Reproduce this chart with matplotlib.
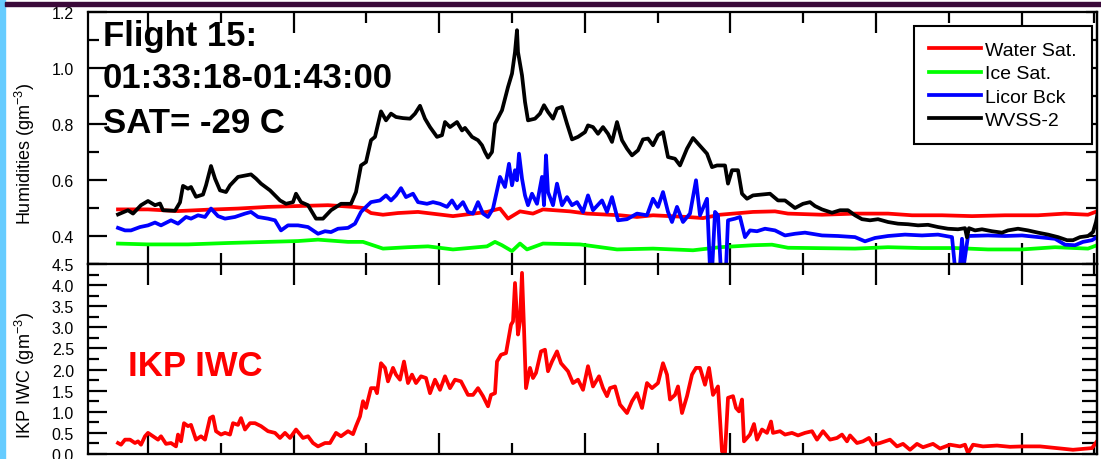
import matplotlib.pyplot as plt
from matplotlib.patches import Rectangle
import numpy as np

plt.rcParams['font.family'] = ['Liberation Sans', 'DejaVu Sans']
plt.rcParams['mathtext.fontset'] = 'custom'
plt.rcParams['mathtext.rm'] = 'Liberation Sans'
plt.rcParams['mathtext.it'] = 'Liberation Sans:italic'
plt.rcParams['mathtext.bf'] = 'Liberation Sans:bold'

# x = sample index along the leg (the original has no x labels)
water_t = [30, 60, 90, 120, 150, 180, 210, 240, 265, 275, 283, 295, 310, 330,
           365, 399, 412, 420, 432, 445, 455, 482, 499, 532, 549, 565, 599, 615, 632, 665,
           687, 700, 734, 767, 800, 824, 854, 884, 917, 950, 977, 1000, 1009]
water = [0.495, 0.495, 0.489, 0.494, 0.498, 0.504, 0.507, 0.51, 0.504, 0.5, 0.482, 0.476, 0.482, 0.486,
         0.471, 0.486, 0.498, 0.462, 0.488, 0.48, 0.495, 0.488, 0.48, 0.474, 0.468, 0.474, 0.468, 0.464, 0.476, 0.486,
         0.488, 0.48, 0.476, 0.48, 0.48, 0.474, 0.474, 0.471, 0.474, 0.474, 0.48, 0.476, 0.488]

ice_t = [30, 60, 100, 140, 180, 210, 230, 260, 275, 285, 295, 320, 340,
         365, 399, 407, 414, 424, 432, 439, 455, 492, 529, 565, 605, 632, 665,
         684, 700, 767, 800, 834, 867, 900, 934, 967, 1000, 1009]
ice = [0.373, 0.37, 0.37, 0.375, 0.379, 0.382, 0.387, 0.379, 0.379, 0.367, 0.355, 0.36, 0.363,
       0.352, 0.363, 0.379, 0.367, 0.346, 0.373, 0.352, 0.373, 0.37, 0.352, 0.355, 0.349, 0.36, 0.367,
       0.369, 0.358, 0.355, 0.36, 0.357, 0.357, 0.352, 0.352, 0.36, 0.355, 0.367]

licor_t = [30, 37, 43, 52, 60, 67, 73, 83, 90, 98, 103, 110, 117, 123, 130, 137, 147, 157, 163, 170,
           180, 187, 193, 200, 210, 220, 230, 237, 243, 250, 260, 267, 273, 278, 283, 292, 298, 303,
           308, 313, 318, 325, 330, 339, 345, 352, 359, 364, 369, 375, 380, 385, 390, 395, 400, 405,
           412, 417, 421, 424, 427, 429, 431, 434, 437, 440, 444, 449, 454, 456, 458, 460, 465, 469,
           474, 479, 484, 489, 495, 500, 505, 514, 519, 524, 530, 539, 549, 559, 565, 570, 575, 580,
           584, 589, 595, 602, 608, 612, 619, 623, 627, 630, 634, 637, 640, 647, 652, 657, 662, 669,
           677, 687, 697, 707, 717, 734, 750, 767, 777, 787, 800, 817, 834, 850, 864, 868, 871, 874,
           876, 880, 900, 917, 934, 950, 967, 977, 987, 995, 1004, 1009]
licor = [0.429, 0.42, 0.42, 0.432, 0.438, 0.448, 0.438, 0.456, 0.444, 0.468, 0.462, 0.474, 0.468, 0.498,
         0.471, 0.462, 0.468, 0.48, 0.486, 0.468, 0.462, 0.456, 0.42, 0.438, 0.438, 0.432, 0.408, 0.417,
         0.414, 0.426, 0.429, 0.444, 0.486, 0.504, 0.521, 0.527, 0.545, 0.527, 0.545, 0.571, 0.539, 0.551,
         0.521, 0.515, 0.521, 0.515, 0.504, 0.527, 0.498, 0.521, 0.486, 0.48, 0.521, 0.48, 0.468, 0.498,
         0.611, 0.575, 0.658, 0.581, 0.635, 0.599, 0.694, 0.605, 0.545, 0.51, 0.551, 0.515, 0.611, 0.51,
         0.688, 0.557, 0.51, 0.587, 0.51, 0.539, 0.51, 0.521, 0.486, 0.545, 0.492, 0.527, 0.486, 0.539,
         0.456, 0.46, 0.48, 0.474, 0.533, 0.504, 0.557, 0.486, 0.45, 0.504, 0.45, 0.48, 0.599, 0.474,
         0.533, 0.2, 0.486, 0.474, 0.2, 0.2, 0.456, 0.462, 0.468, 0.396, 0.42, 0.417, 0.426, 0.42, 0.402,
         0.408, 0.412, 0.402, 0.4, 0.396, 0.381, 0.393, 0.4, 0.405, 0.402, 0.405, 0.396, 0.25, 0.25, 0.39,
         0.3, 0.4, 0.402, 0.4, 0.402, 0.396, 0.39, 0.369, 0.367, 0.379, 0.385, 0.396]

wvss_t = [30, 40, 45, 53, 60, 67, 72, 75, 87, 92, 95, 100, 103, 108, 115, 118, 123, 127, 132, 138,
          142, 150, 163, 168, 173, 182, 192, 198, 205, 208, 213, 220, 228, 235, 243, 253, 263, 268,
          273, 278, 283, 287, 293, 298, 303, 308, 315, 322, 327, 332, 337, 342, 349, 354, 357, 362,
          369, 374, 377, 384, 390, 394, 397, 400, 404, 407, 414, 420, 424, 427, 429, 430, 434, 437,
          440, 447, 452, 456, 460, 465, 469, 474, 479, 484, 490, 497, 500, 505, 510, 515, 520, 524,
          529, 534, 539, 544, 550, 555, 560, 565, 570, 575, 580, 587, 592, 599, 605, 610, 619, 624,
          629, 637, 640, 644, 650, 654, 659, 665, 674, 682, 690, 697, 707, 715, 722, 727, 734, 744,
          752, 760, 767, 774, 782, 790, 800, 810, 820, 830, 840, 850, 860, 870, 877, 879, 881, 887,
          894, 904, 914, 920, 930, 940, 950, 960, 970, 979, 985, 992, 1000, 1005, 1008, 1010]
wvss = [0.477, 0.492, 0.48, 0.51, 0.525, 0.51, 0.516, 0.492, 0.49, 0.52, 0.579, 0.569, 0.575, 0.54,
        0.548, 0.581, 0.65, 0.605, 0.563, 0.557, 0.581, 0.611, 0.62, 0.605, 0.587, 0.563, 0.527, 0.515,
        0.521, 0.551, 0.521, 0.51, 0.462, 0.462, 0.492, 0.515, 0.515, 0.557, 0.652, 0.664, 0.742, 0.754,
        0.845, 0.813, 0.837, 0.825, 0.821, 0.819, 0.837, 0.865, 0.819, 0.789, 0.754, 0.76, 0.807, 0.789,
        0.807, 0.777, 0.786, 0.754, 0.742, 0.724, 0.7, 0.68, 0.7, 0.801, 0.849, 0.932, 0.98, 1.057,
        1.135, 1.057, 0.974, 0.879, 0.813, 0.819, 0.837, 0.867, 0.843, 0.819, 0.855, 0.861, 0.801, 0.745,
        0.754, 0.771, 0.795, 0.789, 0.765, 0.789, 0.765, 0.736, 0.807, 0.742, 0.712, 0.688, 0.706, 0.745,
        0.748, 0.724, 0.76, 0.771, 0.682, 0.676, 0.652, 0.712, 0.75, 0.73, 0.694, 0.646, 0.652, 0.652,
        0.587, 0.635, 0.635, 0.551, 0.533, 0.545, 0.548, 0.551, 0.527, 0.527, 0.5, 0.515, 0.521, 0.507,
        0.495, 0.483, 0.492, 0.492, 0.474, 0.46, 0.456, 0.46, 0.45, 0.444, 0.442, 0.438, 0.44, 0.432,
        0.426, 0.424, 0.428, 0.395, 0.428, 0.42, 0.424, 0.417, 0.412, 0.42, 0.426, 0.42, 0.412, 0.405,
        0.396, 0.385, 0.385, 0.396, 0.4, 0.414, 0.45, 0.486]

ikp_t = [30, 33, 37, 42, 47, 50, 53, 57, 60, 65, 70, 73, 78, 83, 88, 90, 93, 96, 100, 103, 108, 113,
         117, 122, 125, 128, 133, 137, 142, 145, 150, 153, 157, 162, 167, 173, 180, 187, 192, 197, 202,
         208, 215, 220, 225, 230, 237, 242, 248, 253, 260, 265, 268, 272, 275, 278, 283, 287, 289, 293,
         297, 300, 305, 308, 312, 316, 320, 324, 328, 333, 338, 342, 347, 352, 357, 362, 367, 373, 380,
         385, 390, 395, 400, 403, 407, 409, 413, 418, 423, 425, 427, 430, 432, 434, 436, 438, 442, 445,
         448, 453, 457, 460, 464, 469, 473, 480, 485, 490, 495, 500, 505, 511, 515, 519, 522, 527, 532,
         539, 544, 549, 554, 559, 564, 570, 575, 579, 582, 587, 590, 594, 599, 604, 608, 612, 617, 621,
         625, 630, 634, 637, 640, 645, 648, 651, 654, 656, 662, 666, 669, 674, 679, 683, 685, 692, 697,
         704, 710, 717, 724, 729, 735, 742, 749, 754, 759, 762, 769, 775, 781, 785, 792, 802, 809, 815,
         822, 829, 835, 845, 852, 862, 872, 877, 880, 885, 895, 909, 922, 935, 952, 969, 985, 999, 1004,
         1009]
ikp = [0.26, 0.22, 0.34, 0.34, 0.26, 0.3, 0.22, 0.42, 0.5, 0.42, 0.34, 0.42, 0.24, 0.26, 0.18, 0.46,
       0.3, 0.73, 0.66, 0.69, 0.34, 0.42, 0.34, 0.85, 0.89, 0.54, 0.46, 0.5, 0.46, 0.73, 0.69, 0.85, 0.58,
       0.73, 0.73, 0.66, 0.54, 0.5, 0.38, 0.5, 0.38, 0.58, 0.38, 0.42, 0.26, 0.18, 0.26, 0.26, 0.5, 0.42,
       0.54, 0.47, 0.66, 0.89, 1.25, 1.09, 1.56, 1.56, 1.44, 2.15, 2.04, 1.72, 2.04, 1.88, 1.76, 2.19,
       1.68, 1.88, 1.68, 1.84, 1.8, 1.44, 1.76, 1.52, 1.84, 1.56, 1.76, 1.72, 1.4, 1.4, 1.56, 1.37, 1.13,
       1.4, 1.44, 2.19, 2.35, 2.39, 3.06, 3.14, 4.05, 2.83, 3.14, 4.29, 2.98, 1.56, 2.04, 1.8, 1.92, 2.43,
       2.47, 1.96, 2.19, 2.43, 2.15, 1.96, 1.68, 1.76, 1.52, 2.08, 1.6, 1.84, 1.56, 1.37, 1.56, 1.6, 1.17,
       0.97, 1.25, 1.44, 1.09, 1.68, 1.56, 1.68, 2.15, 1.88, 1.29, 1.4, 1.6, 0.97, 1.37, 1.88, 2.04, 2.04,
       1.64, 2.04, 1.4, 1.6, 0.06, 0.02, 1.33, 1.37, 1.09, 1.01, 1.29, 0.3, 0.46, 0.71, 0.34, 0.58, 0.5,
       0.77, 0.5, 0.54, 0.46, 0.5, 0.44, 0.5, 0.54, 0.34, 0.54, 0.34, 0.38, 0.46, 0.3, 0.44, 0.26, 0.3,
       0.38, 0.22, 0.26, 0.34, 0.18, 0.24, 0.1, 0.24, 0.16, 0.24, 0.13, 0.22, 0.18, 0.22, 0.02, 0.22, 0.18,
       0.2, 0.17, 0.18, 0.18, 0.14, 0.1, 0.13, 0.14, 0.3]

W, H = 1101, 460
fig = plt.figure(figsize=(W / 100, H / 100), dpi=100)

# page decorations: blue strip left, dark bar on top
fig.add_artist(Rectangle((0, 0), 5 / W, 1, transform=fig.transFigure, color='#66ccff', zorder=0))
fig.add_artist(Rectangle((5 / W, 1 - 6.7 / H), 1, 3.4 / H, transform=fig.transFigure, color='#3b0a3a', zorder=5))

ax1 = fig.add_axes([88 / W, 195 / H, 1009 / W, 252 / H])
ax2 = fig.add_axes([88 / W, 5 / H, 1009 / W, 190 / H])

lw = 2.7
ax1.plot(water_t, water, color='#ff0000', lw=lw, label='Water Sat.')
ax1.plot(ice_t, ice, color='#00ff00', lw=lw, label='Ice Sat.')
ax1.plot(licor_t, licor, color='#0000ff', lw=lw, label='Licor Bck')
ax1.plot(wvss_t, wvss, color='black', lw=lw, label='WVSS-2')
ax2.plot(ikp_t, ikp, color='#ff0000', lw=lw)

major_x = np.arange(60, 1010, 145.6)
minor_x = np.arange(132.8, 1010, 145.6)

for ax in (ax1, ax2):
    ax.set_xlim(0, 1009)
    ax.set_xticks(major_x)
    ax.set_xticks(minor_x, minor=True)
    for s in ax.spines.values():
        s.set_linewidth(1.6)
    ax.tick_params(axis='x', which='both', direction='in', top=True, bottom=True,
                   labelbottom=False, width=1.6)
    ax.tick_params(axis='x', which='major', length=15)
    ax.tick_params(axis='x', which='minor', length=8)
    ax.tick_params(axis='y', which='both', direction='in', width=1.6, labelsize=11.5, pad=10)
    ax.tick_params(axis='y', which='major', length=14)
    ax.tick_params(axis='y', which='minor', length=8)

ax1.set_ylim(0.3, 1.2)
ax1.set_yticks([0.4, 0.6, 0.8, 1.0, 1.2])
ax1.set_yticks([0.3, 0.5, 0.7, 0.9, 1.1], minor=True)
ax1.set_yticklabels(['0.4', '0.6', '0.8', '1.0', '1.2'])

ax2.set_ylim(0, 4.5)
ax2.set_yticks(np.arange(0, 4.51, 0.5))
ax2.set_yticks(np.arange(0.25, 4.5, 0.5), minor=True)
ax2.set_yticklabels(['%.1f' % v for v in np.arange(0, 4.51, 0.5)])

# right-side ticks are short and all the same length
for ax, ln in ((ax1, 8), (ax2, 11)):
    sec = ax.secondary_yaxis('right')
    sec.set_yticks(ax.get_yticks())
    sec.set_yticks(ax.get_yticks(minor=True), minor=True)
    sec.tick_params(which='both', direction='in', length=ln, width=1.6, labelright=False)
    sec.spines['right'].set_linewidth(1.6)

ax1.set_ylabel('Humidities (gm$^{-3}$)', fontsize=13)
ax1.yaxis.set_label_coords(-0.051, 0.44)
ax2.set_ylabel('IKP IWC (gm$^{-3}$)', fontsize=13)
ax2.yaxis.set_label_coords(-0.051, 0.42)

leg = ax1.legend(loc='upper right', bbox_to_anchor=(0.995, 0.944), borderaxespad=0,
                 fontsize=14, handlelength=2.65, handletextpad=0.22, labelspacing=0.3,
                 borderpad=0.78, fancybox=False, framealpha=1, edgecolor='black')
leg.get_frame().set_linewidth(1.5)
for h in leg.get_lines():
    h.set_linewidth(lw)

for txt, yb in (('Flight 15:', 46), ('01:33:18-01:43:00', 88), ('SAT= -29 C', 133)):
    fig.text(103 / W, 1 - yb / H, txt, fontsize=25, fontweight='bold', va='baseline', ha='left')
fig.text(128 / W, 1 - 376 / H, 'IKP IWC', fontsize=25, fontweight='bold', color='#ff0000',
         va='baseline', ha='left')

fig.savefig('out.png', dpi=100)
